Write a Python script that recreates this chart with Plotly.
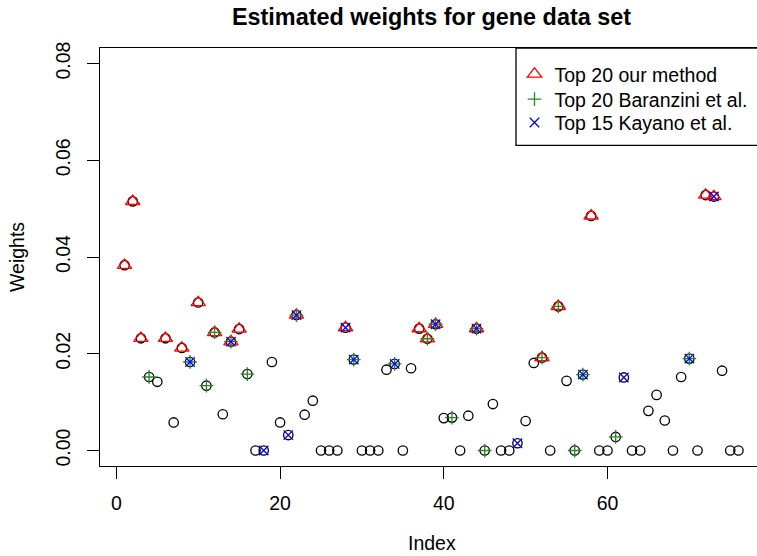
import plotly.graph_objects as go

# ---- data ----
index = list(range(1, 77))
weights = [
    0.0383, 0.0515, 0.0232, 0.0152, 0.0142, 0.0232, 0.0058, 0.0212, 0.0183, 0.0306,
    0.0134, 0.0244, 0.0075, 0.0225, 0.0251, 0.0158, 0.0000, 0.0000, 0.0183, 0.0058,
    0.0032, 0.0280, 0.0074, 0.0103, 0.0000, 0.0000, 0.0000, 0.0254, 0.0188, 0.0000,
    0.0000, 0.0000, 0.0167, 0.0179, 0.0000, 0.0170, 0.0252, 0.0231, 0.0261, 0.0067,
    0.0068, 0.0000, 0.0072, 0.0252, 0.0000, 0.0096, 0.0000, 0.0000, 0.0015, 0.0061,
    0.0181, 0.0192, 0.0000, 0.0298, 0.0144, 0.0000, 0.0157, 0.0485, 0.0000, 0.0000,
    0.0028, 0.0151, 0.0000, 0.0000, 0.0082, 0.0115, 0.0062, 0.0000, 0.0152, 0.0190,
    0.0000, 0.0528, 0.0525, 0.0165, 0.0000, 0.0000,
]
top_our = [1, 2, 3, 6, 8, 10, 12, 14, 15, 22, 28, 37, 38, 39, 44, 52, 54, 58, 72, 73]
top_baranzini = [4, 9, 11, 12, 14, 16, 22, 29, 34, 38, 39, 41, 44, 45, 52, 54, 56, 57, 61, 70]
top_kayano = [9, 14, 18, 21, 22, 28, 29, 34, 39, 44, 49, 57, 62, 70, 73]

legend_names = ["Top 20 our method", "Top 20 Baranzini et al.", "Top 15 Kayano et al."]
x_ticks = [0, 20, 40, 60]
y_ticks = [0.00, 0.02, 0.04, 0.06, 0.08]
y_ticklabels = ["0.00", "0.02", "0.04", "0.06", "0.08"]


def sel(ids):
    return [weights[i - 1] for i in ids]


FONT = "Liberation Sans, Arial, Helvetica, sans-serif"
FS = 19.5
LW = 1.3

fig = go.Figure()
fig.add_trace(go.Scatter(
    x=index, y=weights, mode="markers", showlegend=False, hoverinfo="skip",
    marker=dict(symbol="circle-open", size=9.4, color="black",
                line=dict(width=LW, color="black")),
))
fig.add_trace(go.Scatter(
    x=top_our, y=sel(top_our), mode="markers", name=legend_names[0], legend="legend",
    marker=dict(symbol="triangle-up-open", size=12.5, color="#FF0000",
                line=dict(width=LW, color="#FF0000")),
))
fig.add_trace(go.Scatter(
    x=top_baranzini, y=sel(top_baranzini), mode="markers", name=legend_names[1],
    legend="legend2",
    marker=dict(symbol="cross-thin-open", size=9.8, color="#228B22",
                line=dict(width=LW, color="#228B22")),
))
fig.add_trace(go.Scatter(
    x=top_kayano, y=sel(top_kayano), mode="markers", name=legend_names[2],
    legend="legend3",
    marker=dict(symbol="x-thin-open", size=9.4, color="#0000FF",
                line=dict(width=LW, color="#0000FF")),
))

L, T, B = 100, 48, 90
W, H = 757, 556
PW, PH = W - L, H - T - B
XMIN = -2.0
XPX = 8.185
XMAX = XMIN + PW / XPX


def px_x(p):
    return (p - L) / PW


def px_y(p):
    return (H - B - p) / PH


def legend_at(top_px):
    return dict(x=px_x(514.5), xanchor="left", y=px_y(top_px), yanchor="top",
                bgcolor="rgba(0,0,0,0)", borderwidth=0, tracegroupgap=0,
                font=dict(family=FONT, size=FS, color="black"))


fig.update_layout(
    width=W, height=H, autosize=False,
    margin=dict(l=L, r=0, t=T, b=B, pad=0),
    paper_bgcolor="white", plot_bgcolor="white",
    font=dict(family=FONT, size=FS, color="black"),
    title=dict(text="Estimated weights for gene data set",
               font=dict(family=FONT, size=23.4, color="black", weight="bold"),
               x=px_x(431.5), xref="paper", xanchor="center",
               y=1 - 17 / H, yref="container", yanchor="middle"),
    xaxis=dict(range=[XMIN, XMAX], tickvals=x_ticks, ticks="outside", ticklen=12,
               tickwidth=1, tickcolor="black", showline=True, linecolor="black",
               linewidth=LW, mirror=True, showgrid=False, zeroline=False,
               tickfont=dict(family=FONT, size=FS, color="black"),
               ticklabelstandoff=7),
    yaxis=dict(range=[-0.0032, 0.0832], tickvals=y_ticks, ticktext=y_ticklabels,
               tickangle=-90, ticks="outside", ticklen=12, tickwidth=1,
               tickcolor="black", showline=True, linecolor="black", linewidth=LW,
               mirror=False, showgrid=False, zeroline=False,
               tickfont=dict(family=FONT, size=FS, color="black"),
               ticklabelstandoff=9),
    legend=legend_at(54.9),
    legend2=legend_at(79.9),
    legend3=legend_at(103.3),
    shapes=[dict(type="rect", xref="paper", yref="paper",
                 x0=px_x(516), x1=1.05, y0=px_y(145.3), y1=1.0,
                 line=dict(color="black", width=LW), fillcolor="rgba(0,0,0,0)")],
    annotations=[
        dict(text="Index", xref="paper", yref="paper", x=px_x(431.5), y=px_y(543),
             xanchor="center", yanchor="middle", showarrow=False,
             font=dict(family=FONT, size=FS, color="black")),
        dict(text="Weights", xref="paper", yref="paper", x=px_x(17), y=px_y(257),
             xanchor="center", yanchor="middle", textangle=-90, showarrow=False,
             font=dict(family=FONT, size=FS, color="black")),
    ],
)

fig.write_html("out.html")
